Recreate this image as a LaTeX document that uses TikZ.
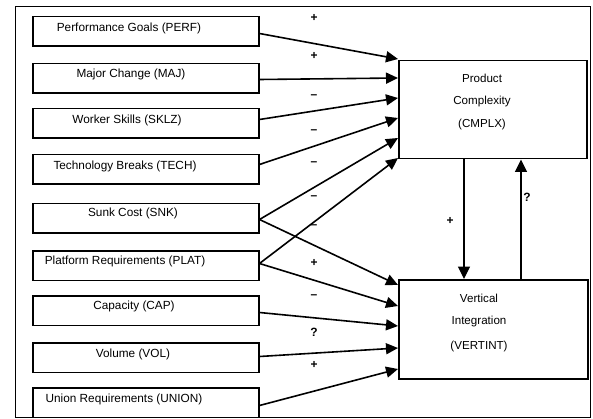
\documentclass[tikz,border=0pt]{standalone}
\usepackage{fontspec}
\setmainfont{Liberation Sans}
\usetikzlibrary{arrows.meta,calc}
\begin{document}
\begin{tikzpicture}[x=1pt,y=-1pt,
  inbox/.style={draw,line width=1.5pt,minimum width=226pt,minimum height=29.5pt,anchor=north west,inner sep=0pt},
  outbox/.style={draw,line width=1.5pt,minimum width=188pt,minimum height=98pt,anchor=north west,inner sep=0pt},
  boxtext/.style={anchor=base,inner sep=0pt,font=\fontsize{11.8}{13}\selectfont},
  bigtext/.style={anchor=base,inner sep=0pt,font=\fontsize{11.6}{13}\selectfont},
  sign/.style={inner sep=0pt,font=\fontsize{12}{14}\selectfont\bfseries},
  arr/.style={line width=1.6pt,-{Triangle[length=12pt,width=11pt]}},
  varr/.style={line width=1.2pt,-{Triangle[length=12.5pt,width=12pt]}}]
\useasboundingbox (0,0) rectangle (593,419);
\fill[white] (0,0) rectangle (593,419);
\draw[line width=1pt] (15,7) rectangle (590,417);

% left boxes
\node[inbox] (perf)  at (32,16)  {};
\node[inbox] (maj)   at (32,63)  {};
\node[inbox] (sklz)  at (32,108) {};
\node[inbox] (tech)  at (32,154) {};
\node[inbox] (snk)   at (32,203) {};
\node[inbox] (plat)  at (32,250) {};
\node[inbox] (cap)   at (32,295) {};
\node[inbox] (vol)   at (32,342) {};
\node[inbox] (union) at (32,387) {};

\node[boxtext] (perf-t)  at (129,32)  {Performance Goals (PERF)};
\node[boxtext] (maj-t)   at (131,78)  {Major Change (MAJ)};
\node[boxtext] (sklz-t)  at (127,124) {Worker Skills (SKLZ)};
\node[boxtext] (tech-t)  at (125,170) {Technology Breaks (TECH)};
\node[boxtext] (snk-t)   at (133,217) {Sunk Cost (SNK)};
\node[boxtext] (plat-t)  at (125,264) {Platform Requirements (PLAT)};
\node[boxtext] (cap-t)   at (134,309) {Capacity (CAP)};
\node[boxtext] (vol-t)   at (133,357) {Volume (VOL)};
\node[boxtext] (union-t) at (124,402) {Union Requirements (UNION)};

% right boxes
\node[outbox] (cmplx) at (398,60) {};
\node[outbox,minimum width=189pt,minimum height=99pt] (vert) at (398,279) {};

\node[bigtext] (cmplx-1) at (482,83)  {Product};
\node[bigtext] (cmplx-2) at (482,105) {Complexity};
\node[bigtext] (cmplx-3) at (482,128) {(CMPLX)};
\node[bigtext] (vert-1) at (479,302) {Vertical};
\node[bigtext] (vert-2) at (479,324) {Integration};
\node[bigtext] (vert-3) at (479,349) {(VERTINT)};

% arrows to CMPLX
\draw[arr] ([yshift=-2pt]perf.east)  -- ([yshift=1pt]cmplx.north west);
\draw[arr] ([yshift=-1pt]maj.east)   -- ([yshift=-18pt]cmplx.north west);
\draw[arr] ([yshift=4pt]sklz.east)   -- ([yshift=-38pt]cmplx.north west);
\draw[arr] ([yshift=5pt]tech.east)   -- ([yshift=-58pt]cmplx.north west);
\draw[arr] ([yshift=-1pt]snk.east)   -- ([yshift=-78pt]cmplx.north west);
\draw[arr] ([yshift=2pt]plat.east)   -- ([yshift=-98pt]cmplx.north west);

% arrows to VERTINT
\draw[arr] ([yshift=-1pt]snk.east)   -- ([yshift=-6pt]vert.north west);
\draw[arr] ([yshift=2pt]plat.east)   -- ([yshift=-27pt]vert.north west);
\draw[arr] ([yshift=-2pt]cap.east)   -- ([yshift=-47pt]vert.north west);
\draw[arr] ([yshift=1pt]vol.east)    -- ([yshift=-69pt]vert.north west);
\draw[arr] ([yshift=-3pt]union.east) -- ([yshift=-90pt]vert.north west);

% vertical arrows
\coordinate (dn) at (464,220);
\coordinate (up) at (521,220);
\draw[varr] (cmplx.south -| dn) -- (vert.north -| dn);
\draw[varr] (vert.north -| up) -- (cmplx.south -| up);

% signs
\node[sign] (s1)  at (314,18)  {+};
\node[sign] (s2)  at (314,56)  {+};
\node[sign] (s3)  at (314,97)  {–};
\node[sign] (s4)  at (314,132) {–};
\node[sign] (s5)  at (314,164) {–};
\node[sign] (s6)  at (314,198) {–};
\node[sign] (s7)  at (314,227) {–};
\node[sign] (s8)  at (314,263) {+};
\node[sign] (s9)  at (314,297) {–};
\node[sign] (s10) at (314,332) {?};
\node[sign] (s11) at (314,365) {+};
\node[sign] (s12) at (450,221) {+};
\node[sign] (s13) at (527,197) {?};
\end{tikzpicture}
\end{document}
